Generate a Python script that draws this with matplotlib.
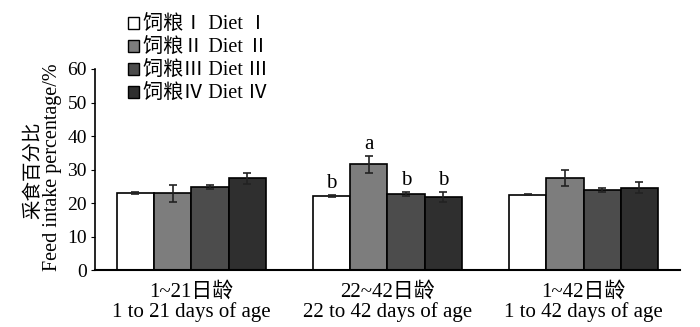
import numpy as np
import matplotlib.pyplot as plt
from matplotlib.patches import Patch

plt.rcParams["font.family"] = ["Liberation Serif", "Noto Sans CJK SC"]
plt.rcParams["font.size"] = 14

# Feed intake percentage (%) by diet and age period
periods = ["1~21日龄\n1 to 21 days of age",
           "22~42日龄\n22 to 42 days of age",
           "1~42日龄\n1 to 42 days of age"]
diets = ["饲粮Ⅰ Diet Ⅰ", "饲粮Ⅱ Diet Ⅱ", "饲粮Ⅲ Diet Ⅲ", "饲粮Ⅳ Diet Ⅳ"]
diet1 = [23.1, 22.3, 22.6]
diet2 = [23.0, 31.6, 27.4]
diet3 = [24.9, 22.8, 24.0]
diet4 = [27.4, 21.8, 24.6]
err1 = [0.3, 0.3, 0.1]
err2 = [2.5, 2.5, 2.4]
err3 = [0.5, 0.5, 0.6]
err4 = [1.7, 1.5, 1.6]
letters2 = ["b", "a", "b", "b"]  # 22~42 d significance marks

colors = ["#ffffff", "#7d7d7d", "#4c4c4c", "#2f2f2f"]
means = [diet1, diet2, diet3, diet4]
errs = [err1, err2, err3, err4]

fig = plt.figure(figsize=(7.0, 3.27), dpi=100)
ax = fig.add_axes([0.136, 0.173, 0.835, 0.616])

x = np.arange(len(periods))
w = 0.19
for i in range(4):
    xs = x + (i - 1.5) * w
    ax.bar(xs, means[i], w, color=colors[i], edgecolor="black", linewidth=1.2,
           yerr=errs[i], error_kw=dict(ecolor="#222222", elinewidth=1.2, capsize=3, capthick=1.2))
    top = means[i][1] + errs[i][1]
    ax.text(xs[1], top + 0.6, letters2[i], ha="center", va="bottom", fontsize=15)

ax.set_xlim(-0.49, 2.49)
ax.set_ylim(0, 60)
ax.set_yticks(np.arange(0, 61, 10))
ax.set_xticks(x)
ax.set_xticklabels(periods, fontsize=15, linespacing=1.05)
ax.tick_params(axis="x", length=0, pad=8)
ax.tick_params(axis="y", direction="out", length=3, labelsize=14, pad=3)
ax.spines["top"].set_visible(False)
ax.spines["right"].set_visible(False)
ax.spines["left"].set_linewidth(1.2)
ax.spines["bottom"].set_linewidth(1.5)

fig.text(0.047, 0.48, "采食百分比", rotation=90, ha="center", va="center", fontsize=14)
fig.text(0.075, 0.49, "Feed intake percentage/%", rotation=90, ha="center", va="center", fontsize=14.5)

handles = [Patch(facecolor=c, edgecolor="black", linewidth=1.0) for c in colors]
fig.legend(handles, diets, loc="upper left", bbox_to_anchor=(0.167, 0.985), frameon=False,
           fontsize=14.5, handlelength=0.55, handleheight=0.55, handletextpad=0.2,
           labelspacing=0.2, borderaxespad=0.15)

fig.savefig("out.png", dpi=100)
